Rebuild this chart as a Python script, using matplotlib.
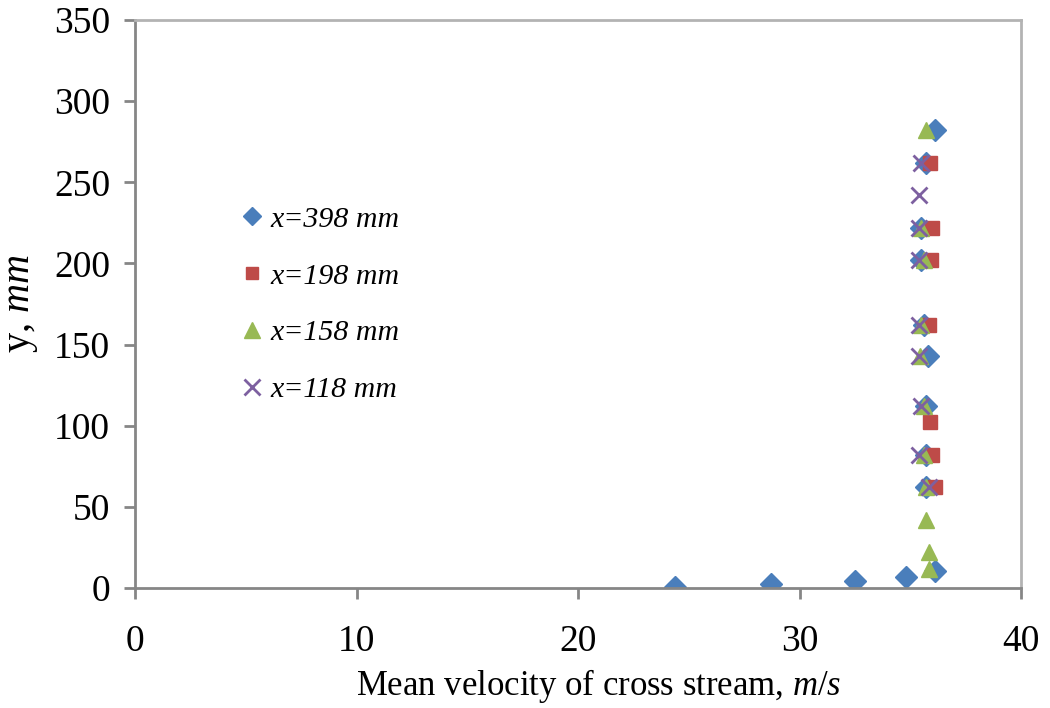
import matplotlib.pyplot as plt
from matplotlib.lines import Line2D

plt.rcParams['font.family'] = ['Liberation Serif', 'DejaVu Serif']
plt.rcParams['mathtext.fontset'] = 'custom'
plt.rcParams['mathtext.rm'] = 'Liberation Serif'
plt.rcParams['mathtext.it'] = 'Liberation Serif:italic'

# mean velocity (m/s) against height y (mm) at four stations
y_398 = [0.5, 2.5, 4.5, 6.5, 10.5, 62, 82, 112, 143, 162, 202, 222, 262, 282]
u_398 = [24.4, 28.7, 32.5, 34.8, 36.1, 35.7, 35.7, 35.7, 35.8, 35.6, 35.5, 35.5, 35.7, 36.1]

y_198 = [62, 82, 102, 162, 202, 222, 262]
u_198 = [36.1, 36.0, 35.9, 35.85, 35.95, 36.0, 35.9]

y_158 = [12, 22, 42, 62, 82, 112, 143, 162, 202, 222, 282]
u_158 = [35.85, 35.85, 35.7, 35.7, 35.6, 35.6, 35.45, 35.5, 35.6, 35.5, 35.7]

y_118 = [62, 82, 112, 143, 162, 202, 222, 242, 262]
u_118 = [35.85, 35.4, 35.5, 35.4, 35.4, 35.4, 35.4, 35.4, 35.5]

labels = ['x=398 mm', 'x=198 mm', 'x=158 mm', 'x=118 mm']
colors = ['#4a7ebb', '#be4b48', '#98b954', '#7d60a0']

fig = plt.figure(figsize=(10.5, 7.08), dpi=100)
ax = fig.add_axes([0.1286, 0.1695, 0.8438, 0.8023])

ax.plot(u_398, y_398, 'D', color=colors[0], ms=11, ls='none')
ax.plot(u_198, y_198, 's', color=colors[1], ms=10, ls='none')
ax.plot(u_158, y_158, '^', color=colors[2], ms=12, ls='none')
ax.plot(u_118, y_118, 'x', color=colors[3], ms=12, mew=2, ls='none')

ax.set_xlim(0, 40)
ax.set_ylim(0, 350)
ax.set_xticks(range(0, 41, 10))
ax.set_yticks(range(0, 351, 50))

for s in ['left', 'bottom']:
    ax.spines[s].set_color('#868686')
    ax.spines[s].set_linewidth(2)
for s in ['top', 'right']:
    ax.spines[s].set_color('#b3b3b3')
    ax.spines[s].set_linewidth(2)
ax.tick_params(direction='out', length=8, width=2, color='#868686',
               labelsize=27)
ax.tick_params(axis='x', pad=18)
ax.tick_params(axis='y', pad=10)

ax.set_xlabel(r'Mean velocity of cross stream, $\mathit{m/s}$', fontsize=25, labelpad=6)
ax.xaxis.label.set_x(0.523)
ax.set_ylabel(r'y, $\mathit{mm}$', fontsize=29, labelpad=10)

handles = [
    Line2D([], [], marker='D', color=colors[0], ls='none', ms=9),
    Line2D([], [], marker='s', color=colors[1], ls='none', ms=9),
    Line2D([], [], marker='^', color=colors[2], ls='none', ms=11),
    Line2D([], [], marker='x', color=colors[3], ls='none', ms=11, mew=2),
]
leg = ax.legend(handles, labels, loc='upper left', bbox_to_anchor=(0.092, 0.72),
                frameon=False, handlelength=0.6, handletextpad=0.3,
                labelspacing=1.0, prop={'family': 'Liberation Serif',
                                        'style': 'italic', 'size': 21.5})

fig.savefig('out.png', dpi=100)
